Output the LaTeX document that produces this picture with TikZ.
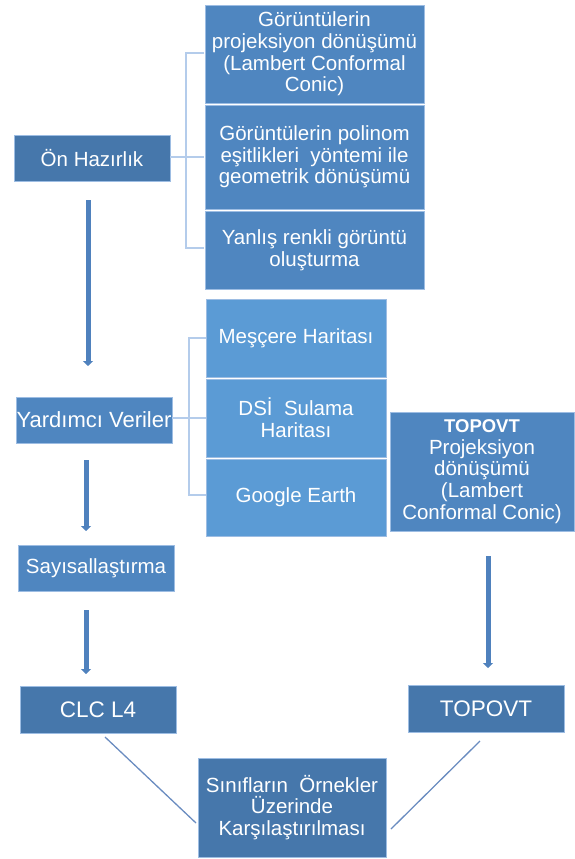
\documentclass[tikz,border=0pt]{standalone}
\usepackage{fontspec}
\setmainfont{Liberation Sans}
\usetikzlibrary{arrows.meta}
\definecolor{dk}{HTML}{4677AB}
\definecolor{md}{HTML}{4F86C0}
\definecolor{lt}{HTML}{5B9BD5}
\definecolor{edge}{HTML}{9DBDE3}
\definecolor{brk}{HTML}{B4CCEB}
\definecolor{arrc}{HTML}{4F81BD}
\definecolor{diag}{HTML}{6A8CC0}
\begin{document}
\begin{tikzpicture}[x=1pt,y=-1pt,
  box/.style={draw=edge,line width=0.8pt,text=white,align=center,inner sep=0pt,outer sep=0pt,
    font=\fontsize{20.5}{21.7}\selectfont},
  big/.style={font=\fontsize{22.5}{24}\selectfont},
  arr/.style={draw=arrc,line width=5pt,-{Triangle[width=10pt,length=5pt]}},
  brack/.style={draw=brk,line width=2pt},
  dline/.style={draw=diag,line width=1.3pt}]
\useasboundingbox (0,0) rectangle (575,859);
% top group
\node[box,fill=md,minimum width=219pt,minimum height=98pt] (t1) at (314.5,54) {Görüntülerin\\projeksiyon dönüşümü\\(Lambert Conformal\\Conic)};
\node[box,fill=md,minimum width=219pt,minimum height=104pt] (t2) at (314.5,157) {Görüntülerin polinom\\eşitlikleri\ \ yöntemi ile\\geometrik dönüşümü};
\node[box,fill=md,minimum width=219pt,minimum height=78pt] (t3) at (314.5,250) {Yanlış renkli görüntü\\oluşturma};
\node[box,fill=dk,minimum width=156pt,minimum height=46pt] (on) at (92,158) {Ön Hazırlık};
% bracket 1
\coordinate (b1m) at (186,157);
\coordinate (b1t) at (186,53);
\coordinate (b1b) at (186,248);
\coordinate (b1tt) at (204,53);
\coordinate (b1mt) at (204,157);
\coordinate (b1bt) at (204,248);
\draw[brack] (on.east |- b1m) -- (b1m);
\draw[brack] (b1tt) -- (b1t) -- (b1b) -- (b1bt);
\draw[brack] (b1m) -- (b1mt);
% middle group
\node[box,fill=lt,minimum width=180pt,minimum height=78pt] (m1) at (296,338) {Meşçere Haritası};
\node[box,fill=lt,minimum width=180pt,minimum height=78pt] (m2) at (296,418) {DSİ\ \ Sulama\\Haritası};
\node[box,fill=lt,minimum width=180pt,minimum height=77pt] (m3) at (296,497.5) {Google Earth};
\node[box,fill=md,minimum width=156pt,minimum height=46pt,font=\fontsize{22}{24}\selectfont] (yv) at (94,420) {Yardımcı Veriler};
% bracket 2
\coordinate (b2m) at (189,418);
\coordinate (b2t) at (189,338);
\coordinate (b2b) at (189,495);
\coordinate (b2tt) at (206,338);
\coordinate (b2mt) at (206,418);
\coordinate (b2bt) at (206,495);
\draw[brack] (yv.east |- b2m) -- (b2m);
\draw[brack] (b2tt) -- (b2t) -- (b2b) -- (b2bt);
\draw[brack] (b2m) -- (b2mt);
% right proj box
\node[box,fill=md,minimum width=184pt,minimum height=119pt] (tp) at (482,471.5) {{\fontsize{18.5}{21.7}\selectfont\bfseries TOPOVT}\\Projeksiyon\\dönüşümü\\(Lambert\\Conformal Conic)};
\node[box,fill=md,minimum width=156pt,minimum height=46pt] (say) at (96,568) {Sayısallaştırma};
\node[box,big,fill=dk,minimum width=156pt,minimum height=47pt] (clc) at (98,709.5) {CLC L4};
\node[box,big,fill=dk,minimum width=156pt,minimum height=47pt] (topo) at (486,708.5) {TOPOVT};
\node[box,fill=dk,minimum width=188pt,minimum height=99pt] (cmp) at (292,807.5) {Sınıfların\ \ Örnekler\\Üzerinde\\Karşılaştırılması};
% arrows
\coordinate (a1s) at (88,200); \coordinate (a1e) at (88,366);
\coordinate (a2s) at (86,460); \coordinate (a2e) at (86,531);
\coordinate (a3s) at (86,610); \coordinate (a3e) at (86,674);
\coordinate (a4s) at (488,556); \coordinate (a4e) at (488,668);
\draw[arr] (a1s) -- (a1e);
\draw[arr] (a2s) -- (a2e);
\draw[arr] (a3s) -- (a3e);
\draw[arr] (a4s) -- (a4e);
% diagonal lines
\coordinate (d1s) at (105,737); \coordinate (d1e) at (196,823);
\coordinate (d2s) at (480,741); \coordinate (d2e) at (391,829);
\draw[dline] (d1s) -- (d1e);
\draw[dline] (d2s) -- (d2e);
\end{tikzpicture}
\end{document}
